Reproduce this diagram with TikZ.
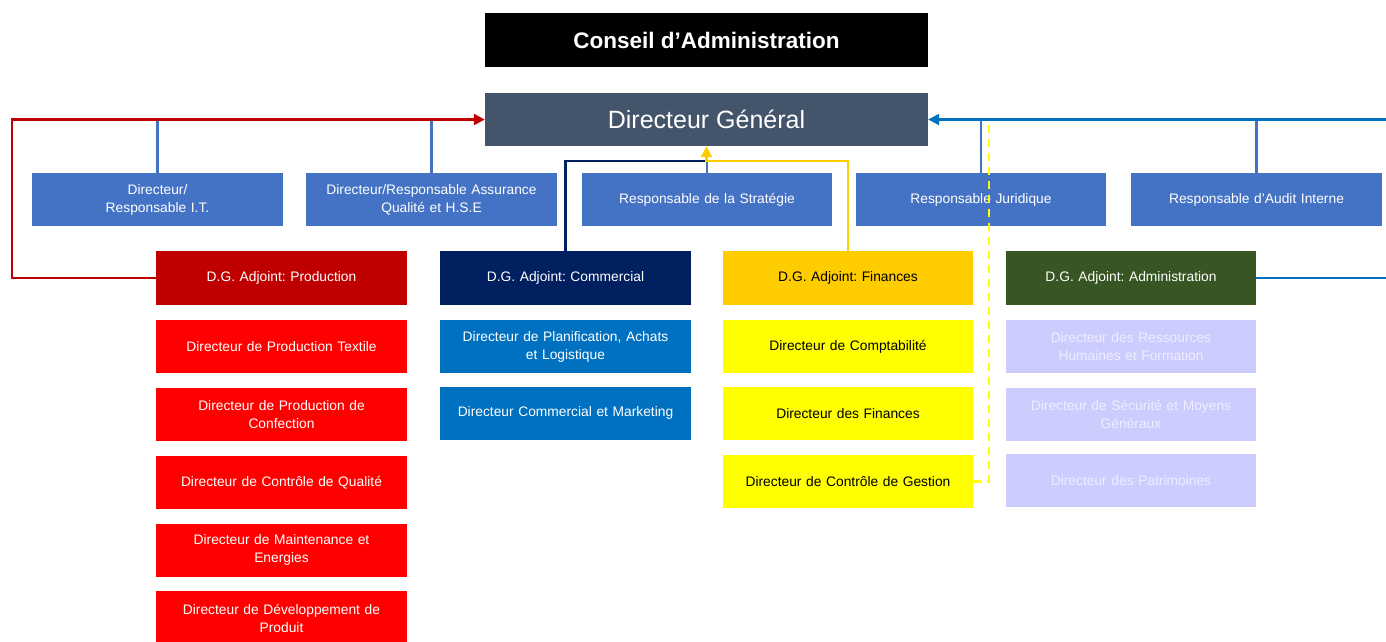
\documentclass[tikz,border=0pt]{standalone}
\usepackage{fontspec}
\setmainfont{Liberation Sans}
\usetikzlibrary{arrows.meta}
\definecolor{dgcol}{HTML}{44546A}
\definecolor{rowblue}{HTML}{4472C4}
\definecolor{prodred}{HTML}{C00000}
\definecolor{subred}{HTML}{FF0000}
\definecolor{navy}{HTML}{002060}
\definecolor{comblue}{HTML}{0070C0}
\definecolor{finorange}{HTML}{FFCC00}
\definecolor{finyellow}{HTML}{FFFF00}
\definecolor{admgreen}{HTML}{375623}
\definecolor{lavender}{HTML}{CCCCFF}
\definecolor{lavtext}{HTML}{EEEEFF}
\tikzset{
  box/.style={rectangle, inner xsep=0pt, inner ysep=2pt, align=center, text width=#1, minimum width=#1, minimum height=53pt, font=\fontsize{13.8}{18}\selectfont},
  box/.default=250pt,
  itemrow/.style={box=#1, fill=rowblue, text=white},
  itemrow/.default=250pt,
  prodhead/.style={box=#1, fill=prodred, text=white, minimum height=54pt},
  prodhead/.default=251pt,
  prodsub/.style={box=#1, fill=subred, text=white},
  prodsub/.default=251pt,
  comhead/.style={box=#1, fill=navy, text=white, minimum height=54pt},
  comhead/.default=251pt,
  comsub/.style={box=#1, fill=comblue, text=white},
  comsub/.default=251pt,
  finhead/.style={box, fill=finorange, text=black, minimum height=54pt},
  finsub/.style={box, fill=finyellow, text=black},
  admhead/.style={box, fill=admgreen, text=white, minimum height=54pt},
  admsub/.style={box, fill=lavender, text=lavtext},
  wire/.style={line width=2.4pt, line join=miter},
  tip/.style={-{Triangle[length=11pt,width=11pt]}},
}
\begin{document}
\frenchspacing
\begin{tikzpicture}[x=1pt,y=-1pt]
\useasboundingbox (0,0) rectangle (1386,641);
\begin{scope}
\clip (0,0) rectangle (1386,641);

% top of the chart
\node[rectangle, fill=black, text=white, minimum width=443pt, minimum height=54pt, font=\bfseries\fontsize{22.5}{26}\selectfont] (ca) at (706.5,40) {Conseil d’Administration};
\node[rectangle, fill=dgcol, text=white, minimum width=443pt, minimum height=53pt, font=\fontsize{25}{29}\selectfont] (dg) at (706.5,119.5) {Directeur Général};

% staff functions attached to the general director
\node[itemrow=251pt] (it) at (157.5,199.5) {Directeur/\\Responsable I.T.};
\node[itemrow=251pt] (qhse) at (431.5,199.5) {Directeur/Responsable Assurance\\Qualité et H.S.E};
\node[itemrow] (strat) at (707,199.5) {Responsable de la Stratégie};
\node[itemrow] (jur) at (981,199.5) {Responsable Juridique};
\node[itemrow=251pt] (audit) at (1256.5,199.5) {Responsable d’Audit Interne};

% deputy directors
\node[prodhead] (prod) at (281.5,278) {D.G. Adjoint: Production};
\node[comhead] (com) at (565.5,278) {D.G. Adjoint: Commercial};
\node[finhead] (fin) at (848,278) {D.G. Adjoint: Finances};
\node[admhead] (adm) at (1131,278) {D.G. Adjoint: Administration};

% production departments
\node[prodsub] (p1) at (281.5,346.5) {Directeur de Production Textile};
\node[prodsub] (p2) at (281.5,414.5) {Directeur de Production de\\Confection};
\node[prodsub] (p3) at (281.5,482.5) {Directeur de Contrôle de Qualité};
\node[prodsub] (p4) at (281.5,550) {Directeur de Maintenance et\\Energies};
\node[prodsub, minimum height=54pt] (p5) at (281.5,618) {Directeur de Développement de\\Produit};

% commercial departments
\node[comsub] (c1) at (565.5,346.5) {Directeur de Planification, Achats\\et Logistique};
\node[comsub] (c2) at (565.5,413) {Directeur Commercial et Marketing};

% finance departments
\node[finsub] (f1) at (848,346.5) {Directeur de Comptabilité};
\node[finsub] (f2) at (848,413.5) {Directeur des Finances};
\node[finsub] (f3) at (848,481.5) {Directeur de Contrôle de Gestion};

% administration departments
\node[admsub] (a1) at (1131,346.5) {Directeur des Ressources\\Humaines et Formation};
\node[admsub] (a2) at (1131,414.5) {Directeur de Sécurité et Moyens\\Généraux};
\node[admsub] (a3) at (1131,480.5) {Directeur des Patrimoines};

% routing points
\coordinate (redcorner) at (12,119.5);
\coordinate (join) at (706.5,161);
\coordinate (bluecorner) at (1396,278);
\coordinate (dashcorner) at (989,481.5);
\coordinate (dashtop) at (989,119.5);

% staff links
\foreach \n in {it,qhse,jur,audit}
  \draw[wire, rowblue] (\n.north) -- (\n.north |- dg.west);
\draw[wire, rowblue] (strat.north) -- (strat.north |- join);

% dashed link from management control
\draw[wire, finyellow, line width=2.6pt, dash pattern=on 8pt off 6pt] (f3.east) -- (dashcorner) -- (dashtop);

% production line
\draw[wire, prodred, tip] (prod.west) -| (redcorner) -- (dg.west);

% commercial and finance lines
\draw[wire, navy] (com.north) |- (join);
\draw[wire, finorange, tip] (fin.north) |- (join) -- (dg.south);

% administration line
\draw[wire, comblue, tip] (adm.east) -- (bluecorner) |- (dg.east);
\end{scope}
\end{tikzpicture}
\end{document}
